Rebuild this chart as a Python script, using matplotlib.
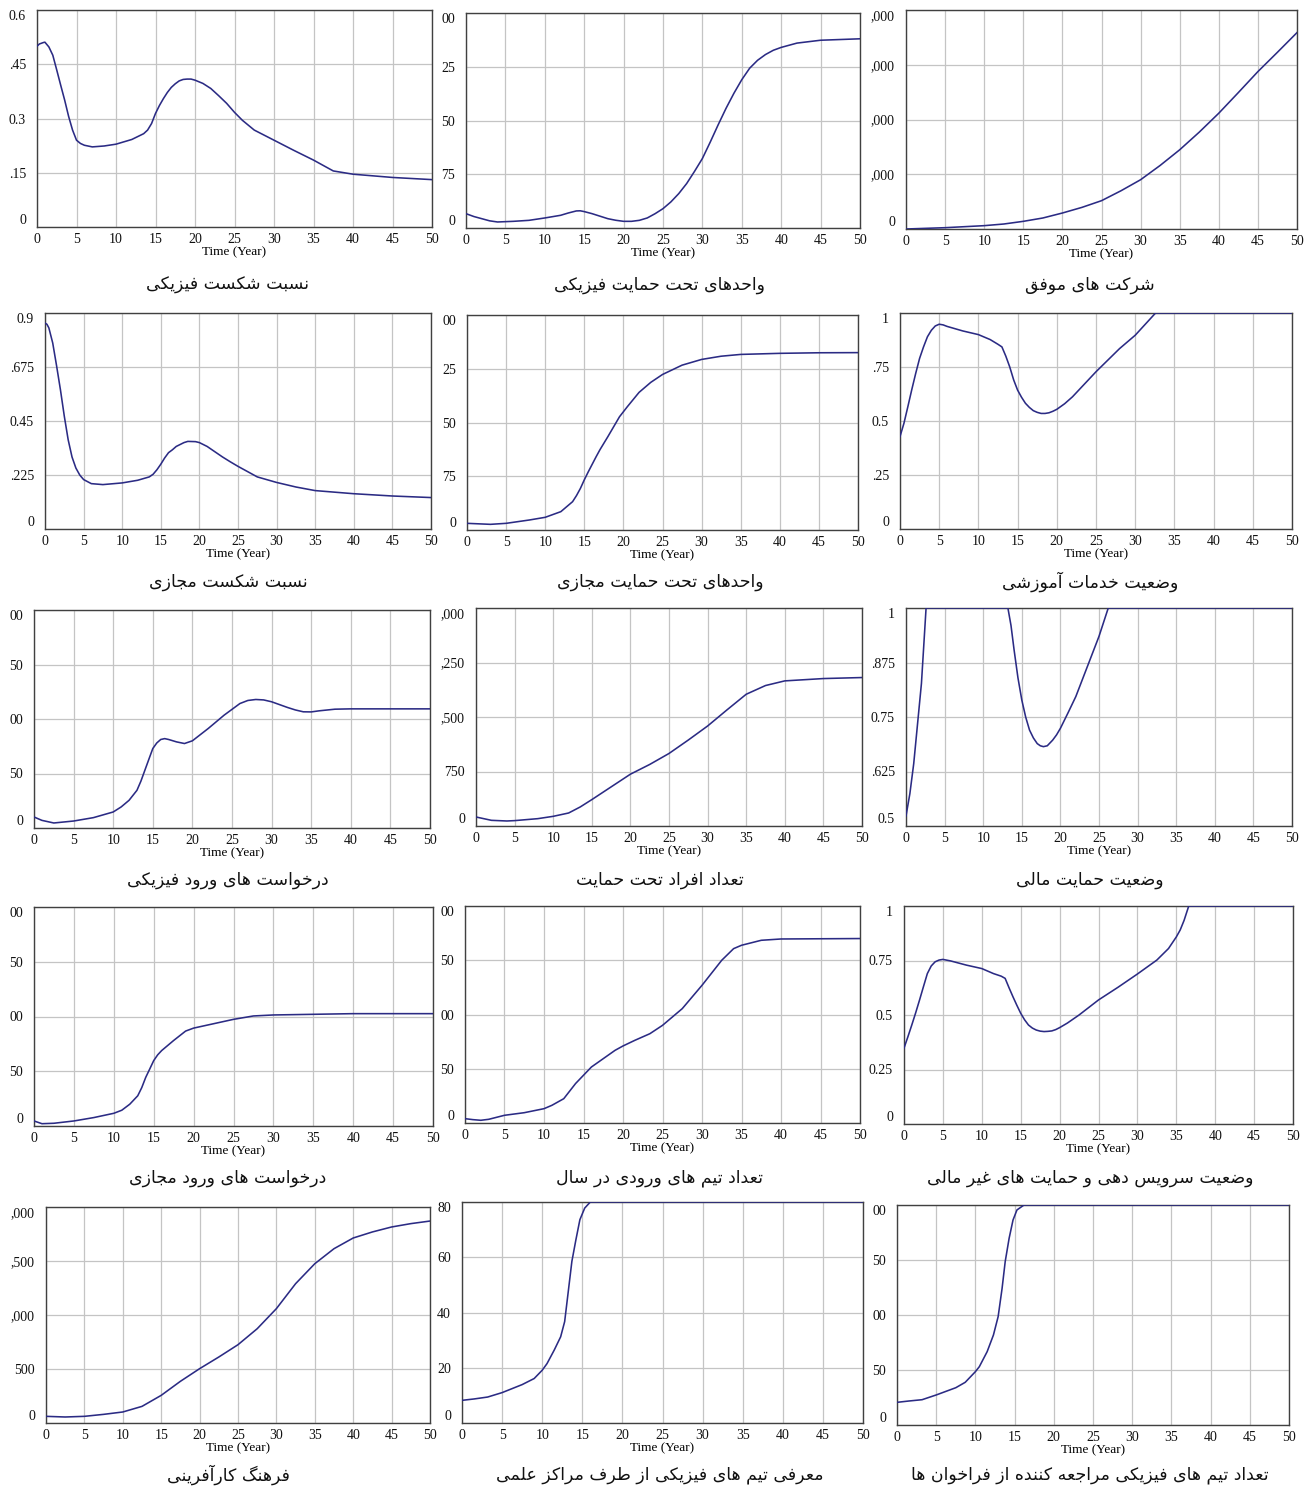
import numpy as np
import matplotlib
matplotlib.use("Agg")
import matplotlib.pyplot as plt

W, H = 1313, 1490

# ---------------- data ----------------
t_p1 = [0, 0.3, 0.8, 1.0, 1.5, 2.0, 2.5, 3.0, 3.5, 4.0, 4.5, 5, 5.5, 6, 7, 8.5, 10, 12, 13.5, 14, 14.5, 15, 15.5, 16, 16.5, 17, 17.5, 18, 18.5, 19, 19.5, 20, 21, 22, 23, 24, 25, 26, 27.5, 30, 32.5, 35, 37.5, 40, 45, 50]
v_p1 = [0.500, 0.506, 0.510, 0.511, 0.498, 0.475, 0.434, 0.392, 0.351, 0.306, 0.268, 0.240, 0.231, 0.226, 0.2215, 0.224, 0.229, 0.242, 0.258, 0.268, 0.286, 0.314, 0.336, 0.355, 0.372, 0.386, 0.396, 0.404, 0.408, 0.409, 0.409, 0.406, 0.397, 0.383, 0.363, 0.342, 0.317, 0.295, 0.268, 0.240, 0.212, 0.185, 0.155, 0.146, 0.137, 0.131]

t_p2 = [0, 1, 2, 3, 4, 6, 8, 10, 12, 13, 14, 14.5, 15, 16, 17, 18, 19, 20, 21, 22, 23, 24, 25, 26, 27, 28, 29, 30, 31, 32, 33, 34, 35, 36, 37, 38, 39, 40, 42, 45, 50]
v_p2 = [20, 16, 13, 10, 8.4, 9.3, 10.7, 14, 17.7, 21, 23.8, 24, 22.9, 20, 16.5, 13, 10.8, 9.3, 9.3, 10.7, 14, 20, 27, 36.4, 48, 62, 79, 97, 120, 144, 167, 188, 207, 223, 234, 242, 248, 252, 258, 262, 264]

t_p3 = [0, 5, 10, 12.5, 15, 17.5, 20, 22.5, 25, 27.5, 30, 32.5, 35, 37.5, 40, 42.5, 45, 47.5, 50]
v_p3 = [0, 24, 61, 91, 140, 201, 292, 395, 517, 699, 900, 1161, 1447, 1769, 2115, 2492, 2875, 3228, 3587]

t_p4 = [0, 0.25, 0.5, 1, 1.5, 2, 2.5, 3, 3.5, 4, 4.5, 5, 6, 7.5, 10, 12, 13.5, 14, 14.5, 15, 15.5, 16, 16.5, 17, 18, 18.5, 19.5, 20, 21, 22, 23, 24, 25, 27.5, 30, 32.5, 35, 40, 45, 50]
v_p4 = [0.858, 0.853, 0.838, 0.775, 0.68, 0.58, 0.47, 0.372, 0.30, 0.254, 0.225, 0.206, 0.189, 0.185, 0.192, 0.203, 0.217, 0.228, 0.247, 0.27, 0.296, 0.318, 0.33, 0.344, 0.36, 0.365, 0.364, 0.36, 0.344, 0.322, 0.300, 0.28, 0.261, 0.217, 0.194, 0.175, 0.160, 0.147, 0.1375, 0.131]

t_p5 = [0, 3, 5, 8, 10, 12, 13.5, 14, 14.5, 15, 15.5, 16.5, 17, 18, 19.5, 20.5, 22, 23.5, 25, 27.5, 30, 32.5, 35, 40, 45, 50]
v_p5 = [9.3, 7.9, 9.3, 14, 17.7, 25.6, 39.5, 48, 58, 70, 81, 102, 112, 130, 158, 172, 192, 206, 217, 230, 238, 242.5, 245, 246.5, 247.3, 247.5]

t_p6 = [0, 0.5, 1, 1.5, 2, 2.5, 3, 3.5, 4, 4.5, 5, 5.5, 6, 8, 10, 11.5, 12.5, 13, 13.5, 14, 14.5, 15, 15.5, 16, 16.5, 17, 17.5, 18, 18.5, 19, 19.5, 20, 21, 22, 25, 28, 30, 32.6, 40, 50]
v_p6 = [0.428, 0.489, 0.566, 0.645, 0.72, 0.79, 0.843, 0.89, 0.92, 0.94, 0.948, 0.945, 0.938, 0.917, 0.90, 0.877, 0.855, 0.843, 0.80, 0.75, 0.69, 0.643, 0.61, 0.582, 0.563, 0.548, 0.54, 0.535, 0.535, 0.538, 0.545, 0.554, 0.58, 0.612, 0.728, 0.835, 0.897, 1.0, 1.0, 1.0]

t_p7 = [0, 1, 2.5, 5, 7.5, 10, 11, 12, 13, 13.5, 14, 14.5, 15, 15.5, 16, 16.5, 17, 18, 19, 20, 22, 24, 26, 27, 28, 29, 30, 32, 33, 34, 35, 36, 38, 40, 50]
v_p7 = [10.1, 7, 4.6, 6.4, 9.5, 14.7, 19.3, 25.4, 34.6, 43, 53, 63, 72.9, 78, 81.2, 82, 81.2, 79, 77.5, 80, 91.3, 103.5, 114.2, 117, 117.9, 117.5, 115.8, 110.6, 108.3, 106.6, 106.5, 107.5, 109, 109.3, 109.3]

t_p8 = [0, 2, 4, 5, 8, 10, 12, 13.5, 15, 17.5, 20, 22.5, 25, 27.5, 30, 32.5, 35, 37.5, 40, 45, 50]
v_p8 = [124, 78, 69, 74, 101, 133, 179, 262, 363, 538, 713, 847, 998, 1183, 1376, 1597, 1813, 1933, 1997, 2029, 2043]

t_p9 = [0, 0.5, 1, 1.5, 2, 2.6, 8, 13.2, 13.6, 14, 14.5, 15, 15.5, 16, 16.5, 17, 17.4, 17.8, 18.3, 19, 19.5, 20, 21, 22, 23, 24, 25, 26.2, 40, 50]
v_p9 = [0.523, 0.574, 0.643, 0.735, 0.827, 1.0, 1.0, 1.0, 0.96, 0.904, 0.84, 0.789, 0.75, 0.72, 0.702, 0.689, 0.684, 0.682, 0.684, 0.697, 0.709, 0.724, 0.76, 0.797, 0.843, 0.889, 0.935, 1.0, 1.0, 1.0]

t_p10 = [0, 1, 2.5, 5, 7.5, 10, 11, 12, 13, 13.5, 14, 14.5, 15, 15.5, 16, 17.5, 19, 20, 22.5, 25, 27.5, 30, 35, 40, 50]
v_p10 = [4.6, 2.1, 2.5, 4.6, 7.7, 11.6, 14.4, 19.9, 27.6, 35, 44.4, 52, 59.7, 65, 68.9, 78.1, 86.7, 89.4, 93.4, 97.4, 100.5, 101.4, 102, 102.6, 102.6]

t_p11 = [0, 1, 2, 3, 5, 7.5, 10, 11, 12.5, 14, 15, 16, 17.5, 19, 20, 21.5, 23.4, 25, 27.5, 30, 32.5, 34, 35, 37.5, 40, 50]
v_p11 = [4, 3.1, 2.5, 3.4, 7.1, 9.5, 13.2, 16.3, 22.4, 36.4, 44, 51.6, 59.3, 67, 71, 76.2, 82.3, 90, 105.4, 126.9, 150, 160.7, 163.8, 168.4, 169.6, 170]

t_p12 = [0, 0.5, 1, 1.5, 2, 2.5, 3, 3.5, 4, 4.5, 5, 6, 8, 10, 11.5, 12.5, 13, 13.5, 14, 14.5, 15, 15.5, 16, 16.5, 17, 17.5, 18, 18.5, 19, 19.5, 20, 21, 22.5, 25, 27.5, 30, 32.5, 34, 35, 35.5, 36, 36.6, 40, 50]
v_p12 = [0.348, 0.40, 0.454, 0.51, 0.569, 0.63, 0.69, 0.725, 0.744, 0.752, 0.755, 0.748, 0.729, 0.713, 0.69, 0.678, 0.668, 0.625, 0.584, 0.545, 0.508, 0.478, 0.454, 0.44, 0.431, 0.426, 0.424, 0.425, 0.427, 0.433, 0.442, 0.463, 0.50, 0.569, 0.627, 0.688, 0.752, 0.805, 0.858, 0.89, 0.934, 1.0, 1.0, 1.0]

t_p13 = [0, 2.5, 5, 7.5, 10, 12.5, 15, 17.5, 20, 22.5, 25, 27.5, 30, 32.5, 35, 37.5, 40, 42.5, 45, 47.5, 50]
v_p13 = [61.7, 55.6, 61.7, 80, 102, 154, 256, 386, 503, 611, 725, 873, 1059, 1290, 1475, 1614, 1713, 1769, 1815, 1846, 1870]

t_p14 = [0, 1.5, 3.2, 5, 7.5, 9, 10, 10.6, 11.5, 12.3, 12.8, 13.3, 13.7, 14.2, 14.7, 15.3, 16, 30, 50]
v_p14 = [8.2, 8.7, 9.4, 11, 13.9, 16.1, 19.1, 21.5, 26.4, 31.2, 36.7, 48.8, 58.5, 66.3, 73.6, 77.8, 80, 80, 80]

t_p15 = [0, 1.5, 3.2, 5, 7.5, 8.7, 10, 10.5, 11.5, 12.3, 12.9, 13.4, 13.8, 14.3, 14.8, 15.3, 16.2, 30, 50]
v_p15 = [20.6, 21.8, 23, 27.3, 33.9, 38.8, 48.5, 53, 66.7, 81.8, 98.5, 124, 148.5, 169.7, 186.4, 195.5, 200, 200, 200]

# y ranges and visible tick labels (as they appear, partly cut off in the source)
ylims = [(0, 0.6), (0, 300), (0, 4000),
         (0, 0.9), (0, 300), (0, 1),
         (0, 200), (0, 3000), (0.5, 1),
         (0, 200), (0, 200), (0, 1),
         (0, 2000), (0, 80), (0, 200)]
ylabels = [['0', '.15', '0.3', '.45', '0.6'], ['0', '75', '50', '25', '00'], ['0', ',000', ',000', ',000', ',000'],
           ['0', '.225', '0.45', '.675', '0.9'], ['0', '75', '50', '25', '00'], ['0', '.25', '0.5', '.75', '1'],
           ['0', '50', '00', '50', '00'], ['0', '750', ',500', ',250', ',000'], ['0.5', '.625', '0.75', '.875', '1'],
           ['0', '50', '00', '50', '00'], ['0', '50', '00', '50', '00'], ['0', '0.25', '0.5', '0.75', '1'],
           ['0', '500', ',000', ',500', ',000'], ['0', '20', '40', '60', '80'], ['0', '50', '00', '50', '00']]
xticks = [0, 5, 10, 15, 20, 25, 30, 35, 40, 45, 50]
xlabel = 'Time (Year)'

captions = ['نسبت شکست فیزیکی', 'واحدهای تحت حمایت فیزیکی', 'شرکت های موفق',
            'نسبت شکست مجازی', 'واحدهای تحت حمایت مجازی', 'وضعیت خدمات آموزشی',
            'درخواست های ورود فیزیکی', 'تعداد افراد تحت حمایت', 'وضعیت حمایت مالی',
            'درخواست های ورود مجازی', 'تعداد تیم های ورودی در سال', 'وضعیت سرویس دهی و حمایت های غیر مالی',
            'فرهنگ کارآفرینی', 'معرفی تیم های فیزیکی از طرف مراکز علمی', 'تعداد تیم های فیزیکی مراجعه کننده از فراخوان ها']

series = [(t_p1, v_p1), (t_p2, v_p2), (t_p3, v_p3), (t_p4, v_p4), (t_p5, v_p5),
          (t_p6, v_p6), (t_p7, v_p7), (t_p8, v_p8), (t_p9, v_p9), (t_p10, v_p10),
          (t_p11, v_p11), (t_p12, v_p12), (t_p13, v_p13), (t_p14, v_p14), (t_p15, v_p15)]

# ---------------- layout (pixel boxes: left, right, top, bottom) ----------------
boxes = [(37, 432, 10, 227), (466, 860, 13, 228), (906, 1297, 10, 229),
         (45, 431, 313, 529), (467, 858, 315, 530), (900, 1292, 313, 529),
         (34, 430, 610, 828), (476, 862, 608, 826), (906, 1292, 608, 826),
         (34, 433, 907, 1126), (465, 860, 906, 1123), (904, 1293, 906, 1124),
         (46, 430, 1207, 1423), (462, 863, 1202, 1423), (897, 1289, 1205, 1425)]
cap_x = [228, 660, 1090]
cap_y = [285, 582, 880, 1178, 1475]

# ---------------- simple Persian shaping (presentation forms) ----------------
FORMS = {
    'ا': ('\uFE8D', '\uFE8E', None, None), 'آ': ('\uFE81', '\uFE82', None, None),
    'ب': ('\uFE8F', '\uFE90', '\uFE91', '\uFE92'), 'پ': ('\uFB56', '\uFB57', '\uFB58', '\uFB59'),
    'ت': ('\uFE95', '\uFE96', '\uFE97', '\uFE98'), 'ج': ('\uFE9D', '\uFE9E', '\uFE9F', '\uFEA0'),
    'ح': ('\uFEA1', '\uFEA2', '\uFEA3', '\uFEA4'), 'خ': ('\uFEA5', '\uFEA6', '\uFEA7', '\uFEA8'),
    'د': ('\uFEA9', '\uFEAA', None, None), 'ر': ('\uFEAD', '\uFEAE', None, None),
    'ز': ('\uFEAF', '\uFEB0', None, None), 'س': ('\uFEB1', '\uFEB2', '\uFEB3', '\uFEB4'),
    'ش': ('\uFEB5', '\uFEB6', '\uFEB7', '\uFEB8'), 'ض': ('\uFEBD', '\uFEBE', '\uFEBF', '\uFEC0'),
    'ط': ('\uFEC1', '\uFEC2', '\uFEC3', '\uFEC4'), 'ع': ('\uFEC9', '\uFECA', '\uFECB', '\uFECC'),
    'غ': ('\uFECD', '\uFECE', '\uFECF', '\uFED0'), 'ف': ('\uFED1', '\uFED2', '\uFED3', '\uFED4'),
    'ق': ('\uFED5', '\uFED6', '\uFED7', '\uFED8'), 'ک': ('\uFB8E', '\uFB8F', '\uFB90', '\uFB91'),
    'گ': ('\uFB92', '\uFB93', '\uFB94', '\uFB95'), 'ل': ('\uFEDD', '\uFEDE', '\uFEDF', '\uFEE0'),
    'م': ('\uFEE1', '\uFEE2', '\uFEE3', '\uFEE4'), 'ن': ('\uFEE5', '\uFEE6', '\uFEE7', '\uFEE8'),
    'و': ('\uFEED', '\uFEEE', None, None), 'ه': ('\uFEE9', '\uFEEA', '\uFEEB', '\uFEEC'),
    'ی': ('\uFBFC', '\uFBFD', '\uFBFE', '\uFBFF'),
}
LAMALEF = {'ا': ('\uFEFB', '\uFEFC'), 'آ': ('\uFEF5', '\uFEF6')}


def shape(s):
    out = []
    chars = list(s)
    i = 0
    n = len(chars)
    while i < n:
        c = chars[i]
        prev = chars[i - 1] if i > 0 else None
        joins_prev = prev in FORMS and FORMS[prev][2] is not None
        if c in FORMS:
            if c == 'ل' and i + 1 < n and chars[i + 1] in LAMALEF:
                lf = LAMALEF[chars[i + 1]]
                out.append(lf[1] if joins_prev else lf[0])
                i += 2
                continue
            nxt = chars[i + 1] if i + 1 < n else None
            joins_next = FORMS[c][2] is not None and nxt in FORMS
            f = FORMS[c]
            if joins_prev and joins_next:
                out.append(f[3])
            elif joins_prev:
                out.append(f[1])
            elif joins_next:
                out.append(f[2])
            else:
                out.append(f[0])
        else:
            out.append(c)
        i += 1
    return ''.join(out[::-1])


# ---------------- drawing ----------------
fig = plt.figure(figsize=(W / 100, H / 100), dpi=100)
fig.patch.set_facecolor('white')

serif = 'Liberation Serif'
line_color = '#2b2b84'
grid_color = '#c4c4c4'
frame_color = '#404040'

for k, ((t, v), (L, R, T, B)) in enumerate(zip(series, boxes)):
    ax = fig.add_axes([L / W, 1 - B / H, (R - L) / W, (B - T) / H])
    y0, y1 = ylims[k]
    ax.plot(t, v, color=line_color, lw=1.15, solid_joinstyle='round', zorder=3, clip_on=True)
    ax.set_xlim(0, 50)
    ax.set_ylim(y0, y1)
    ax.set_xticks(xticks)
    ax.set_xticklabels([str(x) for x in xticks], fontfamily=serif, fontsize=10)
    ax.set_yticks(np.linspace(y0, y1, 5))
    ax.set_yticklabels(ylabels[k], fontfamily=serif, fontsize=10)
    ylab = ax.get_yticklabels()
    ylab[0].set_va('bottom')
    ylab[-1].set_va('top')
    ax.tick_params(axis='both', length=0, colors='#111111')
    ax.tick_params(axis='x', pad=4)
    ax.tick_params(axis='y', pad=8)
    ax.grid(True, color=grid_color, lw=0.9, zorder=0)
    ax.set_axisbelow(True)
    for sp in ax.spines.values():
        sp.set_color(frame_color)
        sp.set_linewidth(1.0)
    ax.set_xlabel(xlabel, fontfamily=serif, fontsize=9.5, labelpad=0.5)
    fig.text(cap_x[k % 3] / W, 1 - cap_y[k // 3] / H, shape(captions[k]),
             ha='center', va='center', fontsize=12.5, fontfamily=['DejaVu Sans'], color='#111111')

fig.savefig('out.png', dpi=100, facecolor='white')
